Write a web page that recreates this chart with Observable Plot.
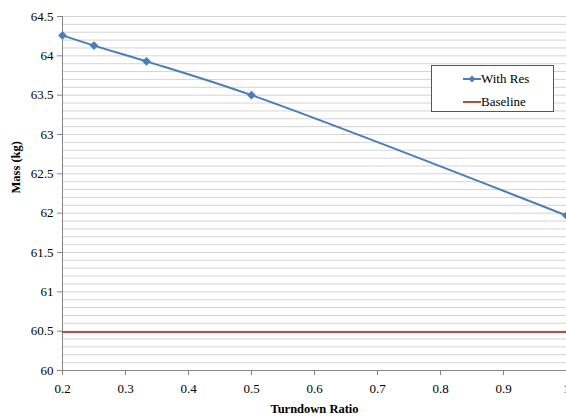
<!DOCTYPE html>
<html>
<head>
<meta charset="utf-8">
<script src="https://cdn.jsdelivr.net/npm/d3@7"></script>
<script src="https://cdn.jsdelivr.net/npm/@observablehq/plot@0.6"></script>
<style>
  html, body { margin: 0; padding: 0; background: #fff; }
  #wrap { position: relative; width: 566px; height: 416px; font-family: "Times New Roman", "Liberation Serif", "DejaVu Serif", serif; }
  #chart svg, #chart svg text, #chart svg g { font-family: "Times New Roman", "Liberation Serif", "DejaVu Serif", serif !important; }
  #legend { position: absolute; left: 431px; top: 65px; width: 123px; height: 47px; border: 1px solid #555; background: #fff; font-size: 13px; color: #000; box-sizing: border-box; }
  .item { position: absolute; left: 49px; height: 14px; line-height: 14px; }
  .swatch { position: absolute; left: -18px; top: 6px; width: 18px; height: 2px; }
</style>
</head>
<body>
<div id="wrap">
  <div id="chart"></div>
  <div id="legend"></div>
</div>
<script>
const ratios = [0.2, 0.25, 1/3, 0.5, 1.0];
const withRes = [64.26, 64.13, 63.93, 63.50, 61.97];
const baseline = [60.49, 60.49, 60.49, 60.49, 60.49];
const xTicks = [0.2, 0.3, 0.4, 0.5, 0.6, 0.7, 0.8, 0.9, 1];
const yTicks = [60, 60.5, 61, 61.5, 62, 62.5, 63, 63.5, 64, 64.5];
const yGrid = d3.range(0, 46).map(i => +(60 + i * 0.1).toFixed(1));
const seriesNames = ["With Res", "Baseline"];
const seriesColors = ["#4a7ebb", "#be4b48"];

const resData = ratios.map((r, i) => ({x: r, y: withRes[i]}));
const baseData = ratios.map((r, i) => ({x: r, y: baseline[i]}));

const fmt = d => String(+d.toFixed(1));

const chart = Plot.plot({
  width: 566,
  height: 416,
  marginLeft: 62,
  marginRight: 0,
  marginTop: 16,
  marginBottom: 46,
  style: { fontFamily: "'Times New Roman', 'Liberation Serif', serif", fontSize: "13px", background: "#fff", color: "#000" },
  x: { domain: [0.2, 1], type: "linear" },
  y: { domain: [60, 64.5], type: "linear" },
  marks: [
    Plot.ruleY(yGrid, { stroke: "#d4d4d4", strokeWidth: 1 }),
    Plot.ruleY([60], { stroke: "#868686", strokeWidth: 1 }),
    Plot.ruleX([0.2], { stroke: "#868686", strokeWidth: 1 }),
    Plot.axisX(xTicks, { tickSize: 5, tickPadding: 8, stroke: "#868686", tickFormat: fmt, fontSize: 13, label: null }),
    Plot.axisY(yTicks, { tickSize: 5, tickPadding: 4, stroke: "#868686", tickFormat: fmt, fontSize: 13, label: null }),
    Plot.text(["Turndown Ratio"], { frameAnchor: "bottom", dy: 42, fontWeight: "bold", fontSize: 12.5, fontFamily: "'Times New Roman', 'Liberation Serif', serif" }),
    Plot.text(["Mass (kg)"], { frameAnchor: "left", dx: -47, rotate: -90, fontWeight: "bold", fontSize: 12.5, fontFamily: "'Times New Roman', 'Liberation Serif', serif" }),
    Plot.line(baseData, { x: "x", y: "y", stroke: seriesColors[1], strokeWidth: 2 }),
    Plot.line(resData, { x: "x", y: "y", stroke: seriesColors[0], strokeWidth: 2, curve: "catmull-rom" }),
    Plot.dot(resData, { x: "x", y: "y", symbol: "diamond2", fill: seriesColors[0], stroke: seriesColors[0], r: 3 })
  ]
});
document.getElementById("chart").appendChild(chart);

const legend = document.getElementById("legend");
seriesNames.forEach((name, i) => {
  const item = document.createElement("div");
  item.className = "item";
  item.style.top = (i === 0 ? 6 : 29) + "px";
  const sw = document.createElement("div");
  sw.className = "swatch";
  sw.style.background = seriesColors[i];
  item.appendChild(sw);
  if (i === 0) {
    const d = document.createElement("div");
    d.style.cssText = "position:absolute;left:-12px;top:4px;width:6px;height:6px;background:" + seriesColors[0] + ";transform:rotate(45deg) scale(0.8);";
    item.appendChild(d);
  }
  item.appendChild(document.createTextNode(name));
  legend.appendChild(item);
});
</script>
</body>
</html>
